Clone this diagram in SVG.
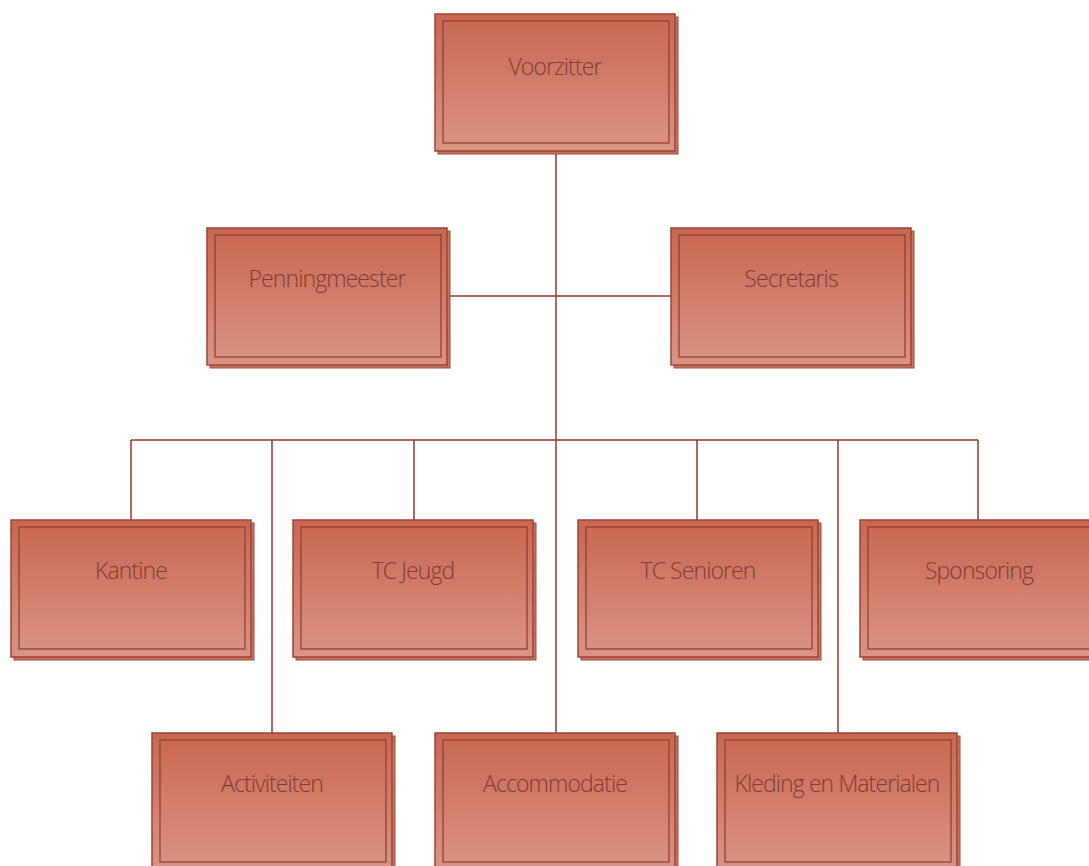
<svg xmlns="http://www.w3.org/2000/svg" width="1089" height="866" viewBox="0 0 1089 866">
<defs>
<linearGradient id="g" x1="0" y1="0" x2="0" y2="1">
<stop offset="0" stop-color="#c86752"/>
<stop offset="1" stop-color="#da9482"/>
</linearGradient>
<style>
.sh{fill:#c8735f;stroke:#a04a3a;stroke-width:1}
.o{fill:url(#g);stroke:#9c4434;stroke-width:1.5}
.i{fill:none;stroke:#8e3a2c;stroke-width:1.2}
.t{font-family:"Open Sans","Liberation Sans",sans-serif;font-weight:300;font-size:23px;fill:#7e3b31;text-anchor:middle;letter-spacing:-0.9px}
.c{fill:none;stroke:#8e3a2c;stroke-width:1.5}
</style>
</defs>
<g id="connectors">
<path class="c" d="M556 151V440M447 296H671M131 440H978M131 440V520M272 440V733M414 440V520M556 440V733M697 440V520M838 440V733M978 440V520"/>
</g>
<g id="voorzitter">
<rect class="sh" x="438" y="17" width="240" height="137"/>
<rect class="o" x="435" y="14" width="240" height="137"/>
<rect class="i" x="443" y="21" width="226" height="122"/>
<text class="t" x="555" y="75">Voorzitter</text>
</g>
<g id="penningmeester">
<rect class="sh" x="210" y="231" width="240" height="137"/>
<rect class="o" x="207" y="228" width="240" height="137"/>
<rect class="i" x="215" y="235" width="226" height="122"/>
<text class="t" x="327" y="287">Penningmeester</text>
</g>
<g id="secretaris">
<rect class="sh" x="674" y="231" width="240" height="137"/>
<rect class="o" x="671" y="228" width="240" height="137"/>
<rect class="i" x="679" y="235" width="226" height="122"/>
<text class="t" x="791" y="287">Secretaris</text>
</g>
<g id="kantine">
<rect class="sh" x="14" y="523" width="240" height="137"/>
<rect class="o" x="11" y="520" width="240" height="137"/>
<rect class="i" x="19" y="527" width="226" height="122"/>
<text class="t" x="131" y="579">Kantine</text>
</g>
<g id="tcjeugd">
<rect class="sh" x="296" y="523" width="240" height="137"/>
<rect class="o" x="293" y="520" width="240" height="137"/>
<rect class="i" x="301" y="527" width="226" height="122"/>
<text class="t" x="413" y="579">TC Jeugd</text>
</g>
<g id="tcsenioren">
<rect class="sh" x="581" y="523" width="240" height="137"/>
<rect class="o" x="578" y="520" width="240" height="137"/>
<rect class="i" x="586" y="527" width="226" height="122"/>
<text class="t" x="698" y="579">TC Senioren</text>
</g>
<g id="sponsoring">
<rect class="sh" x="863" y="523" width="240" height="137"/>
<rect class="o" x="860" y="520" width="240" height="137"/>
<rect class="i" x="868" y="527" width="226" height="122"/>
<text class="t" x="979" y="579">Sponsoring</text>
</g>
<g id="activiteiten">
<rect class="sh" x="155" y="736" width="240" height="137"/>
<rect class="o" x="152" y="733" width="240" height="137"/>
<rect class="i" x="160" y="740" width="226" height="122"/>
<text class="t" x="272" y="792">Activiteiten</text>
</g>
<g id="accommodatie">
<rect class="sh" x="438" y="736" width="240" height="137"/>
<rect class="o" x="435" y="733" width="240" height="137"/>
<rect class="i" x="443" y="740" width="226" height="122"/>
<text class="t" x="555" y="792">Accommodatie</text>
</g>
<g id="kleding">
<rect class="sh" x="720" y="736" width="240" height="137"/>
<rect class="o" x="717" y="733" width="240" height="137"/>
<rect class="i" x="725" y="740" width="226" height="122"/>
<text class="t" x="837" y="792">Kleding en Materialen</text>
</g>
</svg>
